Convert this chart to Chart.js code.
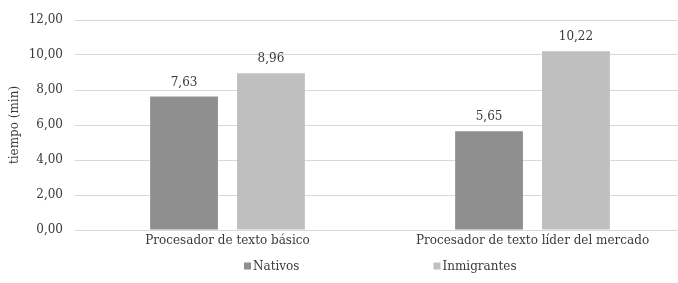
<!DOCTYPE html>
<html>
<head>
<meta charset="utf-8">
<script src="https://cdn.jsdelivr.net/npm/chart.js@4.4.1/dist/chart.umd.min.js"></script>
<style>
  html, body { margin: 0; padding: 0; background: #fff; overflow: hidden; width: 678px; height: 283px; }
  #wrap { width: 685px; height: 283px; }
</style>
</head>
<body>
<div id="wrap"><canvas id="c" width="685" height="283"></canvas></div>
<script>
const categories = ["Procesador de texto básico", "Procesador de texto líder del mercado"];
const seriesNames = ["Nativos", "Inmigrantes"];
const nativos = [7.63, 5.65];
const inmigrantes = [8.96, 10.22];
const yTicks = [0, 2, 4, 6, 8, 10, 12];
const yTitle = "tiempo (min)";

const FONT = "'DejaVu Serif', serif";
const FS = 12;
const TEXT = "#3a3a3a";
const fmt = v => v.toFixed(2).replace('.', ',');

const dataLabels = {
  id: 'dataLabels',
  afterDatasetsDraw(chart) {
    const ctx = chart.ctx;
    ctx.save();
    ctx.font = FS + "px " + FONT;
    ctx.fillStyle = TEXT;
    ctx.textAlign = 'center';
    ctx.textBaseline = 'bottom';
    chart.data.datasets.forEach((ds, di) => {
      chart.getDatasetMeta(di).data.forEach((el, i) => {
        ctx.fillText(fmt(ds.data[i]), el.x, el.y - 8);
      });
    });
    ctx.restore();
  }
};

const customLegend = {
  id: 'customLegend',
  afterDraw(chart) {
    const ctx = chart.ctx;
    ctx.save();
    ctx.font = FS + "px " + FONT;
    ctx.textBaseline = 'middle';
    ctx.textAlign = 'left';
    const box = 7, gapText = 2, gapItem = 134;
    const items = chart.data.datasets.map(ds => ({ text: ds.label, color: ds.backgroundColor }));
    const widths = items.map(it => box + gapText + ctx.measureText(it.text).width);
    const total = widths.reduce((a, b) => a + b, 0) + gapItem * (items.length - 1);
    const center = (chart.chartArea.left + chart.chartArea.right) / 2;
    let x = Math.round(center - total / 2);
    const y = 266;
    items.forEach((it, i) => {
      ctx.fillStyle = it.color;
      ctx.fillRect(x, y - 3.5, box, box);
      ctx.fillStyle = TEXT;
      ctx.fillText(it.text, x + box + gapText, y + 1);
      x += widths[i] + gapItem;
    });
    ctx.restore();
  }
};

new Chart(document.getElementById('c'), {
  type: 'bar',
  data: {
    labels: categories,
    datasets: [
      { label: seriesNames[0], data: nativos, backgroundColor: '#8f8f8f', borderWidth: 0 },
      { label: seriesNames[1], data: inmigrantes, backgroundColor: '#bfbfbf', borderWidth: 0 }
    ]
  },
  options: {
    responsive: false,
    animation: false,
    devicePixelRatio: 1,
    layout: { padding: { top: 20, right: 0, bottom: 0, left: 0 } },
    categoryPercentage: 0.57,
    barPercentage: 0.78,
    plugins: {
      legend: { display: false },
      tooltip: { enabled: false }
    },
    scales: {
      x: {
        grid: { display: false, drawTicks: false },
        border: { display: false },
        ticks: { color: TEXT, font: { family: FONT, size: FS }, padding: 4, maxRotation: 0 },
        afterFit(scale) { scale.height = 53; }
      },
      y: {
        min: 0, max: 12,
        afterBuildTicks(scale) { scale.ticks = yTicks.map(v => ({ value: v })); },
        grid: { color: '#d9d9d9', lineWidth: 1, drawTicks: false },
        border: { display: false },
        ticks: { color: TEXT, font: { family: FONT, size: FS }, padding: 12, callback: v => fmt(v) },
        title: { display: true, text: yTitle, color: TEXT, font: { family: FONT, size: FS }, padding: { top: 8, bottom: 0 } },
        afterFit(scale) { scale.width = 75; }
      }
    }
  },
  plugins: [dataLabels, customLegend]
});
</script>
</body>
</html>
